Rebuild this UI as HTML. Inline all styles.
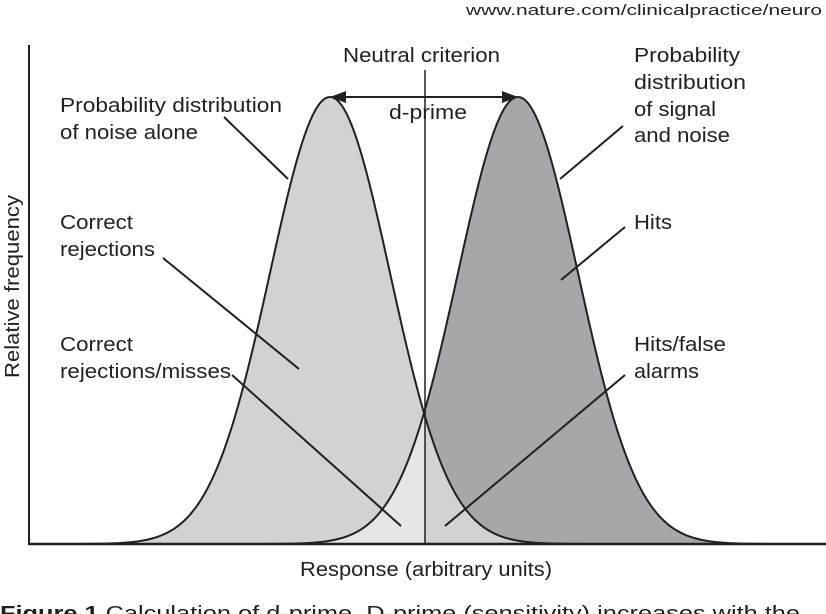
<!DOCTYPE html>
<html><head><meta charset="utf-8"><style>
html,body{margin:0;padding:0;background:#fff;}
svg{display:block;font-family:"Liberation Sans",Arial,sans-serif;}
</style></head><body>
<svg id="c" width="826" height="614" viewBox="0 0 826 614">
<text x="822" y="15" text-anchor="end" font-size="15" fill="#222" textLength="356" lengthAdjust="spacingAndGlyphs">www.nature.com/clinicalpractice/neuro</text>
<g id="fills"></g>
<g id="strokes"></g>
<line x1="29" y1="45" x2="29" y2="545" stroke="#231f20" stroke-width="2"/>
<line x1="28" y1="544" x2="826" y2="544" stroke="#231f20" stroke-width="2.5"/>
<line x1="425" y1="70" x2="425" y2="544" stroke="#231f20" stroke-width="1.5"/>
<g>
<line x1="340" y1="97" x2="508" y2="97" stroke="#231f20" stroke-width="2"/>
<polygon points="330,97 346,91 346,103" fill="#231f20"/>
<polygon points="518,97 502,91 502,103" fill="#231f20"/>
</g>
<g stroke="#231f20" stroke-width="2">
<line x1="224" y1="117" x2="288" y2="179"/>
<line x1="163" y1="258" x2="299" y2="369"/>
<line x1="232" y1="375" x2="401" y2="526"/>
<line x1="623" y1="126" x2="560" y2="179"/>
<line x1="625" y1="227" x2="561" y2="280"/>
<line x1="625" y1="375" x2="445" y2="526"/>
</g>
<g font-size="20" fill="#231f20" lengthAdjust="spacingAndGlyphs">
<text x="343" y="62" textLength="157" lengthAdjust="spacingAndGlyphs">Neutral criterion</text>
<text x="389" y="119" textLength="78" lengthAdjust="spacingAndGlyphs">d-prime</text>
<text x="60" y="112" textLength="222" lengthAdjust="spacingAndGlyphs">Probability distribution</text>
<text x="60" y="139" textLength="138" lengthAdjust="spacingAndGlyphs">of noise alone</text>
<text x="60" y="229" textLength="73" lengthAdjust="spacingAndGlyphs">Correct</text>
<text x="60" y="256" textLength="95" lengthAdjust="spacingAndGlyphs">rejections</text>
<text x="60" y="351" textLength="73" lengthAdjust="spacingAndGlyphs">Correct</text>
<text x="60" y="378" textLength="171" lengthAdjust="spacingAndGlyphs">rejections/misses</text>
<text x="634" y="62" textLength="106" lengthAdjust="spacingAndGlyphs">Probability</text>
<text x="634" y="89" textLength="112" lengthAdjust="spacingAndGlyphs">distribution</text>
<text x="634" y="116" textLength="82" lengthAdjust="spacingAndGlyphs">of signal</text>
<text x="634" y="142" textLength="96" lengthAdjust="spacingAndGlyphs">and noise</text>
<text x="634" y="229" textLength="38" lengthAdjust="spacingAndGlyphs">Hits</text>
<text x="634" y="351" textLength="92" lengthAdjust="spacingAndGlyphs">Hits/false</text>
<text x="634" y="378" textLength="65" lengthAdjust="spacingAndGlyphs">alarms</text>
<text x="300" y="576" textLength="252" lengthAdjust="spacingAndGlyphs">Response (arbitrary units)</text>
<text transform="translate(19,378) rotate(-90)" textLength="183" lengthAdjust="spacingAndGlyphs">Relative frequency</text>
</g>
<text x="0" y="620" font-size="20" fill="#231f20" textLength="800" lengthAdjust="spacingAndGlyphs"><tspan font-weight="bold">Figure 1</tspan> Calculation of d-prime. D-prime (sensitivity) increases with the</text>
</svg>
<script>
// distribution parameters (response units)
const distNames = ["noise","signal"];
const distMeans = [3.3, 5.18];
const distSigma = [0.6, 0.6];
const distPeak = [1.0, 1.0];
const criterion = 4.25;
const xMin=0.6, xMax=7.9;
const X = v => 29 + (v - 0.29) * 100;
const Y = v => 544 - v * 447;
const NS="http://www.w3.org/2000/svg";
function pdf(i,x){return distPeak[i]*Math.exp(-Math.pow(x-distMeans[i],2)/(2*distSigma[i]*distSigma[i]));}
function pathFor(i,a,b){
  let d="M"+X(a)+","+Y(0);
  for(let x=a;x<=b+1e-9;x+=0.01){d+=" L"+X(x).toFixed(2)+","+Y(pdf(i,x)).toFixed(2);}
  d+=" L"+X(b)+","+Y(0)+"Z";return d;
}
const fills=document.getElementById('fills'), strokes=document.getElementById('strokes');
function add(g,d,fill,stroke,name){
  const p=document.createElementNS(NS,'path');
  p.setAttribute('d',d);p.setAttribute('fill',fill);
  p.setAttribute('stroke',stroke);p.setAttribute('stroke-width','2');
  
  
  g.appendChild(p);
}
add(fills,pathFor(0,xMin,criterion),"#d1d2d4","none","noise-area-left");
add(fills,pathFor(1,criterion,xMax),"#a6a7aa","none","signal-area-right");
add(fills,pathFor(1,xMin,criterion),"#e5e6e7","none","misses-area");
add(fills,pathFor(0,criterion,xMax),"#d1d2d4","none","false-alarm-area");
for(let i=0;i<2;i++){
  let d="";
  for(let x=xMin;x<=xMax;x+=0.01){d+=(d?" L":"M")+X(x).toFixed(2)+","+Y(pdf(i,x)).toFixed(2);}
  add(strokes,d,"none","#231f20",distNames[i]+"-curve");
}
</script>
</body></html>
